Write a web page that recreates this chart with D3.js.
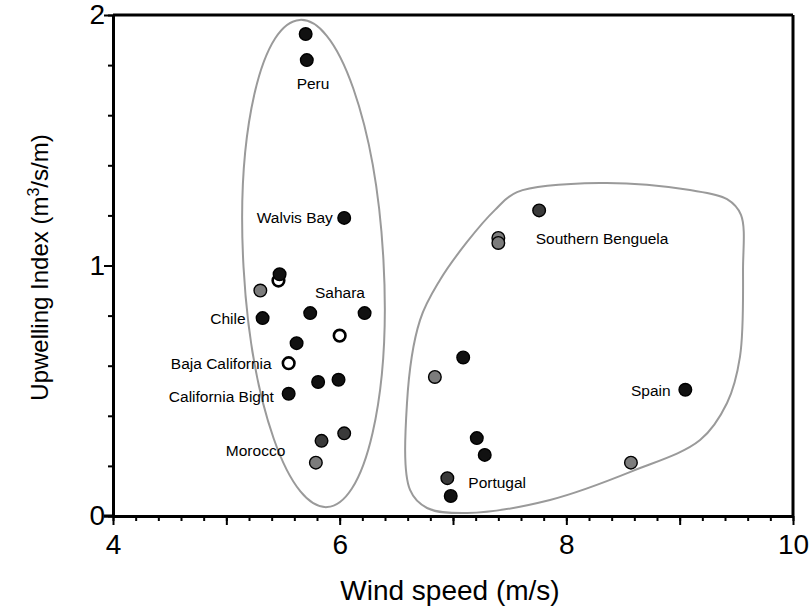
<!DOCTYPE html>
<html>
<head>
<meta charset="utf-8">
<script src="https://cdn.jsdelivr.net/npm/d3@7"></script>
<style>
  body { margin: 0; background: #fff; }
  svg { display: block; font-family: "Liberation Sans", Arial, sans-serif; }
  .axis .domain { stroke: #000; stroke-width: 3; }
  .axis line { stroke: #000; stroke-width: 2; }
  .axis text { font-size: 28px; fill: #000; }
  .lbl { font-size: 15.5px; fill: #000; }
</style>
</head>
<body>
<div id="chart"></div>
<script>
// wind speed (m/s) vs upwelling index (m3/s/m)
const windSpeed = [5.70, 5.71, 6.04, 5.46, 5.47, 5.30, 5.32, 5.74, 6.22, 6.00, 5.62, 5.55, 5.81, 5.99, 5.55, 6.04, 5.84, 5.79,
                   7.76, 7.40, 7.40, 7.09, 6.84, 9.05, 7.21, 7.28, 8.57, 6.95, 6.98];
const upwelling = [1.924, 1.82, 1.19, 0.94, 0.965, 0.90, 0.79, 0.81, 0.81, 0.72, 0.69, 0.61, 0.535, 0.544, 0.488, 0.33, 0.30, 0.213,
                   1.22, 1.11, 1.09, 0.633, 0.555, 0.504, 0.311, 0.244, 0.213, 0.151, 0.08];
const pointType = ["black", "black", "black", "open", "black", "grey", "black", "black", "black", "open", "black", "open", "black", "black", "black", "dark", "dark", "grey",
                   "dark", "grey", "grey", "black", "grey", "black", "black", "black", "grey", "dark", "black"];

// region labels
const labelText = ["Peru", "Walvis Bay", "Sahara", "Chile", "Baja California", "California Bight", "Morocco",
                   "Southern Benguela", "Spain", "Portugal"];
const labelX = [5.765, 5.94, 6.003, 5.17, 5.40, 5.42, 5.52, 7.73, 8.92, 7.135];
const labelY = [1.705, 1.17, 0.87, 0.765, 0.586, 0.456, 0.24, 1.086, 0.48, 0.111];
const labelAnchor = ["middle", "end", "middle", "end", "end", "end", "end", "start", "end", "start"];

// group outlines
const ellipseCentre = [5.769, 1.008];
const ellipseRadius = [0.618, 0.974];
const ellipseTilt = -3.2;
const outlineX = [7.565, 8.297, 9.091, 9.418, 9.541, 9.559, 9.532, 9.418, 9.180, 8.588, 7.856, 7.124, 6.771, 6.621, 6.594, 6.709, 6.885, 7.124, 7.371];
const outlineY = [1.293, 1.329, 1.301, 1.265, 1.202, 0.982, 0.635, 0.451, 0.303, 0.180, 0.064, 0.012, 0.032, 0.104, 0.451, 0.782, 0.942, 1.094, 1.222];

const xTickLabels = [4, 6, 8, 10];
const yTickLabels = [0, 1, 2];

const margin = {top: 15, right: 19, bottom: 95, left: 113};
const width = 812 - margin.left - margin.right;
const height = 611 - margin.top - margin.bottom;

const svg = d3.select("#chart").append("svg")
    .attr("width", 812)
    .attr("height", 611);
const g = svg.append("g")
    .attr("transform", "translate(" + margin.left + "," + margin.top + ")");

const x = d3.scaleLinear().domain([4, 10]).range([0, width]);
const y = d3.scaleLinear().domain([0, 2]).range([height, 0]);

// outlines
g.append("ellipse")
    .attr("cx", x(ellipseCentre[0]))
    .attr("cy", y(ellipseCentre[1]))
    .attr("rx", x(ellipseCentre[0] + ellipseRadius[0]) - x(ellipseCentre[0]))
    .attr("ry", y(0) - y(ellipseRadius[1]))
    .attr("transform", "rotate(" + ellipseTilt + "," + x(ellipseCentre[0]) + "," + y(ellipseCentre[1]) + ")")
    .attr("fill", "none")
    .attr("stroke", "#9a9a9a")
    .attr("stroke-width", 2);

const outline = d3.line()
    .x(d => x(d[0]))
    .y(d => y(d[1]))
    .curve(d3.curveCatmullRomClosed.alpha(0.5));
g.append("path")
    .attr("d", outline(d3.zip(outlineX, outlineY)))
    .attr("fill", "none")
    .attr("stroke", "#9a9a9a")
    .attr("stroke-width", 2);

// axes: minor then major ticks
g.append("g")
    .attr("class", "axis")
    .attr("transform", "translate(0," + height + ")")
    .call(d3.axisBottom(x).tickValues(d3.range(0, 31).map(i => 4 + i * 0.2)).tickSize(5).tickSizeOuter(0).tickFormat(""));
g.append("g")
    .attr("class", "axis")
    .attr("transform", "translate(0," + height + ")")
    .call(d3.axisBottom(x).tickValues(d3.range(4, 11)).tickSize(9).tickSizeOuter(0).tickPadding(9)
        .tickFormat(d => xTickLabels.includes(d) ? d : ""));
// x axis line runs a little past the y axis
g.append("line").attr("x1", -9).attr("x2", 0).attr("y1", height).attr("y2", height)
    .attr("stroke", "#000").attr("stroke-width", 3);

g.append("g")
    .attr("class", "axis")
    .call(d3.axisLeft(y).tickValues(d3.range(0, 11).map(i => i * 0.2)).tickSize(5).tickSizeOuter(0).tickFormat(""));
g.append("g")
    .attr("class", "axis")
    .call(d3.axisLeft(y).tickValues(yTickLabels).tickSize(9).tickSizeOuter(0).tickPadding(-1)
        .tickFormat(d3.format("d")));

// frame top and right
g.append("line").attr("x1", 0).attr("x2", width).attr("y1", y(2)).attr("y2", y(2))
    .attr("stroke", "#000").attr("stroke-width", 3);
g.append("line").attr("x1", x(10)).attr("x2", x(10)).attr("y1", y(2)).attr("y2", y(0))
    .attr("stroke", "#000").attr("stroke-width", 3);

// axis titles
svg.append("text")
    .attr("x", margin.left + width / 2 - 3)
    .attr("y", 600)
    .attr("text-anchor", "middle")
    .style("font-size", "28px")
    .text("Wind speed (m/s)");

const yt = svg.append("text")
    .attr("transform", "translate(48," + (margin.top + height / 2 + 2) + ") rotate(-90)")
    .attr("text-anchor", "middle")
    .style("font-size", "24px");
yt.append("tspan").text("Upwelling Index (m");
yt.append("tspan").attr("dy", -9).style("font-size", "16px").text("3");
yt.append("tspan").attr("dy", 9).text("/s/m)");

// points
const fill = {black: "#111", grey: "#7c7c7c", dark: "#3a3a3a", open: "#fff"};
const pts = d3.range(windSpeed.length).map(i => ({ws: windSpeed[i], ui: upwelling[i], type: pointType[i]}));
// open circles first so filled ones sit on top
pts.sort((a, b) => (a.type === "open" ? 0 : 1) - (b.type === "open" ? 0 : 1));

g.append("g").selectAll("circle")
    .data(pts)
    .enter()
    .append("circle")
    .attr("cx", d => x(d.ws))
    .attr("cy", d => y(d.ui))
    .attr("r", d => d.type === "open" ? 5.8 : 6.3)
    .attr("fill", d => fill[d.type])
    .attr("stroke", "#000")
    .attr("stroke-width", d => d.type === "open" ? 2.6 : 1.4);

// labels
g.append("g").selectAll("text")
    .data(labelText)
    .enter()
    .append("text")
    .attr("class", "lbl")
    .attr("x", (d, i) => x(labelX[i]))
    .attr("y", (d, i) => y(labelY[i]))
    .attr("text-anchor", (d, i) => labelAnchor[i])
    .text(d => d);
</script>
</body>
</html>
